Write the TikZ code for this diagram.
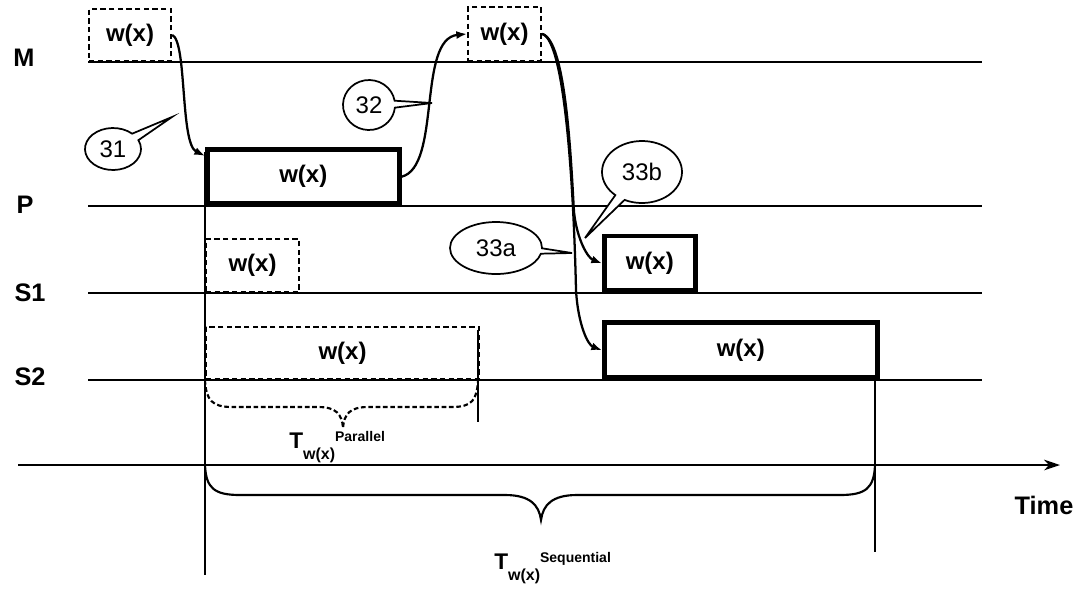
\documentclass[tikz,border=0pt]{standalone}
\usepackage{fontspec}
\setmainfont{Liberation Sans}
\usetikzlibrary{shapes.callouts,arrows.meta}
\begin{document}
\begin{tikzpicture}[x=0.75pt,y=-0.75pt,
  lane/.style={line width=1.4pt},
  lbl/.style={font=\fontsize{19}{22}\selectfont\bfseries},
  wtext/.style={font=\fontsize{18}{22}\selectfont\bfseries},
  dbox/.style={draw, line width=1.6pt, dash pattern=on 4pt off 2.5pt, wtext, inner sep=0pt},
  tbox/.style={draw, line width=3.4pt, wtext, inner sep=0pt},
  flow/.style={line width=1.7pt, -{Latex[length=8pt,width=6pt]}},
  bubble/.style={ellipse callout, draw, line width=1.3pt, fill=white, inner sep=0pt,
     callout pointer arc=16, font=\fontsize{18}{20}\selectfont},
  vline/.style={line width=1.4pt},
  brace/.style={line width=1.6pt},
  tlabel/.style={font=\fontsize{17}{20}\selectfont\bfseries, inner sep=0pt, anchor=base west}
]
\useasboundingbox (0,0) rectangle (1084,590);

% lanes
\draw[lane] (88,62) -- (982,62);
\draw[lane] (88,206) -- (982,206);
\draw[lane] (88,293) -- (982,293);
\draw[lane] (88,380) -- (982,380);
\draw[line width=1.6pt, -{Stealth[length=12pt,width=8pt]}] (18,465) -- (1060,465);

% lane labels
\node[lbl] (lM) at (24,58) {M};
\node[lbl] (lP) at (25,205) {P};
\node[lbl] (lS1) at (30,293) {S1};
\node[lbl] (lS2) at (30,377) {S2};
\node[lbl] (lT) at (1044,505) {Time};

% vertical time markers
\draw[vline] (205,152) -- (205,575);
\draw[vline] (478,330) -- (478,422);
\draw[vline] (875,380) -- (875,552);

% boxes
\node[dbox, minimum width=61.5pt, minimum height=39pt, anchor=south west] (m1) at (88,62) {w(x)};
\node[tbox, minimum width=144pt, minimum height=40.5pt, anchor=south west] (pbox) at (205,206) {w(x)};
\node[dbox, minimum width=54.75pt, minimum height=40.5pt, anchor=south west] (m2) at (467,62) {w(x)};
\node[dbox, minimum width=69.75pt, minimum height=39.75pt, anchor=south west] (s1d) at (205,293) {w(x)};
\node[dbox, minimum width=204.75pt, minimum height=39pt, anchor=south west] (s2d) at (205,380) {w(x)};
\node[tbox, minimum width=68.25pt, minimum height=41pt, anchor=south west] (s1box) at (602,293) {w(x)};
\node[tbox, minimum width=204.75pt, minimum height=41.25pt, anchor=south west] (s2box) at (602,380) {w(x)};

% flows
\draw[flow] (m1.east) .. controls +(15,6) and +(-25,-12) .. (pbox.168);
\draw[flow] (pbox.east) .. controls +(40,-10) and +(-50,5) .. (m2.west);
\draw[flow] (m2.east) .. controls (566,40) and (574,200) .. (576,290)
  .. controls (578,325) and (588,345) .. (s2box.west);
\draw[flow] (m2.east) .. controls (566,40) and (571,160) .. (574,212)
  .. controls (577,240) and (588,258) .. (s1box.west);

% callouts
\node[bubble, minimum width=42pt, minimum height=31.5pt, callout pointer arc=22, callout absolute pointer={(172,117)}] (c31) at (113,149) {31};
\node[bubble, minimum width=39pt, minimum height=37.5pt, callout absolute pointer={(432,103)}] (c32) at (369,105) {32};
\node[bubble, minimum width=60pt, minimum height=46.5pt, callout absolute pointer={(585,238)}] (c33b) at (642,172) {33b};
\node[bubble, minimum width=69pt, minimum height=39pt, callout pointer arc=12, callout absolute pointer={(572,253)}] (c33a) at (496,248) {33a};

% parallel brace (dashed)
\draw[brace, dash pattern=on 3.5pt off 2pt] (205,380) .. controls (206,400) and (212,407) .. (232,407)
  -- (318,407) .. controls (336,407) and (342,414) .. (343,428)
  .. controls (344,414) and (350,407) .. (368,407) -- (452,407)
  .. controls (472,407) and (477,400) .. (478,380);
% sequential brace
\draw[brace] (205,465) .. controls (206,488) and (214,495) .. (240,495)
  -- (505,495) .. controls (530,495) and (539,505) .. (541,520)
  .. controls (543,505) and (552,495) .. (577,495) -- (840,495)
  .. controls (866,495) and (874,488) .. (875,465);

% duration labels
\node[tlabel] (tpar) at (289,448)
  {T\raisebox{-8.5pt}{\fontsize{12}{12}\selectfont w(x)}\raisebox{5pt}{\fontsize{10.5}{11}\selectfont Parallel}};
\node[tlabel] (tseq) at (494,569)
  {T\raisebox{-8.5pt}{\fontsize{12}{12}\selectfont w(x)}\raisebox{5pt}{\fontsize{10.5}{11}\selectfont Sequential}};
\end{tikzpicture}
\end{document}
